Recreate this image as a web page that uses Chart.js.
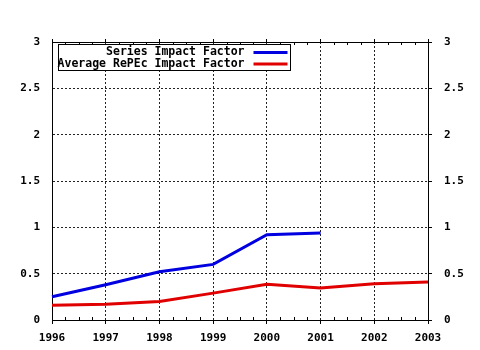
<!DOCTYPE html>
<html>
<head>
<meta charset="utf-8">
<script src="https://cdn.jsdelivr.net/npm/chart.js@4/dist/chart.umd.min.js"></script>
<style>
html,body{margin:0;padding:0;background:#fff;}
#wrap{width:480px;height:350px;}
</style>
</head>
<body>
<div id="wrap"><canvas id="c" width="480" height="350"></canvas></div>
<script>
const years = ['1996','1997','1998','1999','2000','2001','2002','2003'];
const seriesIF = [0.25, 0.38, 0.52, 0.60, 0.92, 0.94, null, null];
const repecIF  = [0.16, 0.17, 0.20, 0.29, 0.385, 0.345, 0.39, 0.41];
const yTicks = [0, 0.5, 1, 1.5, 2, 2.5, 3];

const FONT = {family: "'DejaVu Sans Mono', monospace", size: 11, weight: 'bold'};

const minorTicks = {
  id: 'minorTicks',
  afterDraw(chart) {
    const ctx = chart.ctx, x = chart.scales.x, a = chart.chartArea;
    ctx.save();
    ctx.strokeStyle = '#000';
    ctx.lineWidth = 1;
    ctx.beginPath();
    for (let i = 0; i < years.length - 1; i++) {
      for (const f of [0.25, 0.5, 0.75]) {
        const px = Math.round(x.getPixelForValue(i + f)) + 0.5;
        ctx.moveTo(px, a.bottom); ctx.lineTo(px, a.bottom - 3);
        ctx.moveTo(px, a.top); ctx.lineTo(px, a.top + 3);
      }
    }
    ctx.stroke();
    ctx.restore();
  }
};

const boxLegend = {
  id: 'boxLegend',
  afterDatasetsDraw(chart) {
    const ctx = chart.ctx, a = chart.chartArea;
    const x0 = a.left + 6.5, y0 = a.top + 2.5, w = 232, h = 26;
    ctx.save();
    ctx.fillStyle = '#fff';
    ctx.fillRect(x0, y0, w, h);
    ctx.strokeStyle = '#000';
    ctx.lineWidth = 1;
    ctx.strokeRect(x0, y0, w, h);
    ctx.font = "bold 11.5px 'DejaVu Sans Mono', monospace";
    ctx.textAlign = 'right';
    ctx.textBaseline = 'middle';
    chart.data.datasets.forEach((ds, i) => {
      const ty = y0 + 8 + i * 11.5;
      ctx.fillStyle = '#000';
      ctx.fillText(ds.label, x0 + 186, ty);
      ctx.strokeStyle = ds.borderColor;
      ctx.lineWidth = 3;
      ctx.beginPath();
      ctx.moveTo(x0 + 195, ty);
      ctx.lineTo(x0 + 229, ty);
      ctx.stroke();
    });
    ctx.restore();
  }
};

const fmt = v => String(v);

new Chart(document.getElementById('c'), {
  type: 'line',
  data: {
    labels: years,
    datasets: [
      {label: 'Series Impact Factor', data: seriesIF, borderColor: '#0000e0', borderWidth: 3, pointRadius: 0, tension: 0, fill: false, spanGaps: false, xAxisID: 'x', yAxisID: 'y'},
      {label: 'Average RePEc Impact Factor', data: repecIF, borderColor: '#e00000', borderWidth: 3, pointRadius: 0, tension: 0, fill: false, xAxisID: 'x', yAxisID: 'y'}
    ]
  },
  options: {
    responsive: false,
    animation: false,
    devicePixelRatio: 1,
    layout: {padding: 0},
    plugins: {legend: {display: false}, tooltip: {enabled: false}},
    scales: {
      x: {
        type: 'category', position: 'bottom', offset: false,
        grid: {color: '#222', lineWidth: 1, drawTicks: true, tickLength: 4, tickColor: '#000'},
        border: {display: true, color: '#000', width: 1, dash: [2, 2]},
        ticks: {color: '#000', font: FONT, padding: 8, maxRotation: 0, autoSkip: false},
        afterFit(s) { s.height = 30; }
      },
      x2: {
        type: 'category', position: 'top', offset: false,
        grid: {drawOnChartArea: false, drawTicks: true, tickLength: 3, tickColor: '#000'},
        border: {display: true, color: '#000', width: 1},
        ticks: {display: false},
        afterFit(s) { s.height = 42; }
      },
      y: {
        type: 'linear', position: 'left', min: 0, max: 3,
        afterBuildTicks(s) { s.ticks = yTicks.map(v => ({value: v})); },
        grid: {color: '#222', lineWidth: 1, drawTicks: false},
        border: {display: true, color: '#000', width: 1, dash: [2, 2]},
        ticks: {color: '#000', font: FONT, padding: 12, callback: fmt},
        afterFit(s) { s.width = 52; }
      },
      y2: {
        type: 'linear', position: 'right', min: 0, max: 3,
        afterBuildTicks(s) { s.ticks = yTicks.map(v => ({value: v})); },
        grid: {drawOnChartArea: false, drawTicks: true, tickLength: 4, tickColor: '#000'},
        border: {display: true, color: '#000', width: 1},
        ticks: {color: '#000', font: FONT, padding: 12, callback: fmt},
        afterFit(s) { s.width = 52; }
      }
    }
  },
  plugins: [minorTicks, boxLegend]
});
</script>
</body>
</html>
